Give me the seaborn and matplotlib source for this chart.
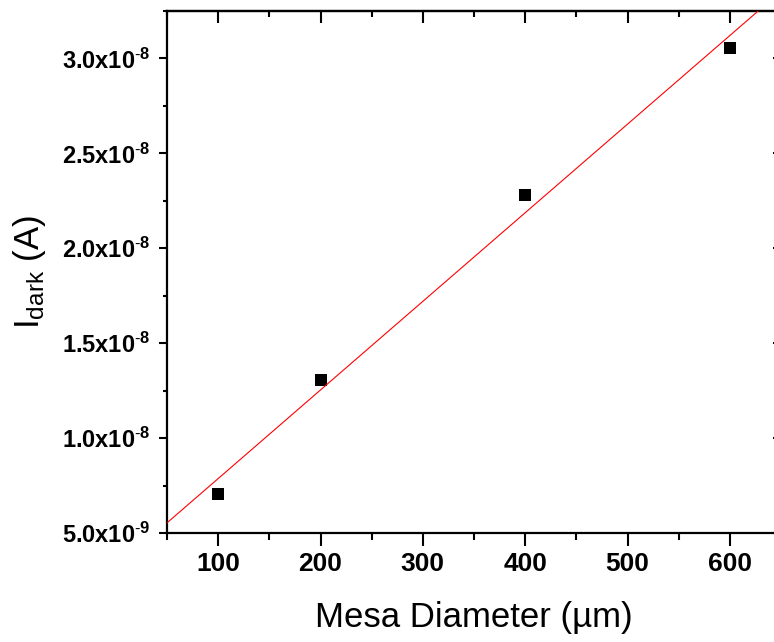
import numpy as np
import pandas as pd
import matplotlib
matplotlib.use("Agg")
import matplotlib.pyplot as plt
from matplotlib.ticker import MultipleLocator, FuncFormatter
import seaborn as sns

# Dark current versus mesa diameter
mesa_diameter_um = [100, 200, 400, 600]
dark_current_A = [7.06e-9, 1.308e-8, 2.28e-8, 3.054e-8]

x_limits = (50, 650)
y_limits = (5.0e-9, 3.25e-8)

sns.set_style("ticks")
plt.rcParams["font.family"] = ["Liberation Sans", "DejaVu Sans"]
plt.rcParams["mathtext.fontset"] = "custom"
plt.rcParams["mathtext.rm"] = "Liberation Sans"
plt.rcParams["mathtext.bf"] = "Liberation Sans:bold"
plt.rcParams["mathtext.default"] = "rm"
for key in ["text.color", "axes.labelcolor", "xtick.color", "ytick.color",
            "axes.edgecolor"]:
    plt.rcParams[key] = "black"

df = pd.DataFrame({"diameter": mesa_diameter_um, "idark": dark_current_A})

fig = plt.figure(figsize=(7.74, 6.42), dpi=100)
ax = fig.add_axes([167 / 774, 109 / 642, 614 / 774, 522 / 642])
ax.set_xlim(*x_limits)
ax.set_ylim(*y_limits)

sns.regplot(
    data=df, x="diameter", y="idark", ax=ax, ci=None, truncate=False,
    marker="s",
    scatter_kws={"s": 78, "color": "black", "alpha": 1, "linewidths": 0,
                 "zorder": 2},
    line_kws={"color": "red", "lw": 0.8, "zorder": 3},
)
ax.set_xlim(*x_limits)
ax.set_ylim(*y_limits)


def sci_label(v, pos):
    if v <= 0:
        return ""
    exp = int(np.floor(np.log10(v)))
    mant = v / 10 ** exp
    return f"{mant:.1f}x10$^{{\\mathbf{{\\text{{-}}{abs(exp)}}}}}$"


ax.xaxis.set_major_locator(MultipleLocator(100))
ax.xaxis.set_minor_locator(MultipleLocator(50))
ax.yaxis.set_major_locator(MultipleLocator(5e-9))
ax.yaxis.set_minor_locator(MultipleLocator(2.5e-9))
ax.yaxis.set_major_formatter(FuncFormatter(sci_label))

for s in ax.spines.values():
    s.set_linewidth(1.6)

ax.tick_params(axis="x", which="major", direction="out", length=9.4, width=1.5,
               labelsize=19, pad=4)
ax.tick_params(axis="x", which="minor", direction="out", length=5, width=1.5)
ax.tick_params(axis="y", which="major", direction="out", length=6, width=1.5,
               labelsize=17, pad=6)
ax.tick_params(axis="y", which="minor", direction="out", length=3, width=1.5)
for lab in ax.get_xticklabels() + ax.get_yticklabels():
    lab.set_fontweight("bold")

# Inward ticks on the top and right edges
top = ax.secondary_xaxis("top")
top.xaxis.set_major_locator(MultipleLocator(100))
top.xaxis.set_minor_locator(MultipleLocator(50))
top.tick_params(which="major", direction="in", length=8.6, width=1.5, labeltop=False)
top.tick_params(which="minor", direction="in", length=4.3, width=1.5)
top.spines["top"].set_linewidth(1.6)

right = ax.secondary_yaxis("right")
right.yaxis.set_major_locator(MultipleLocator(5e-9))
right.tick_params(which="major", direction="in", length=6, width=1.5, labelright=False)
right.spines["right"].set_linewidth(1.6)

ax.set_xlabel("Mesa Diameter (µm)", fontsize=25, labelpad=18)
ax.set_ylabel("I$_{\\mathrm{dark}}$ (A)", fontsize=25, labelpad=10)

fig.savefig("out.png", dpi=100)
